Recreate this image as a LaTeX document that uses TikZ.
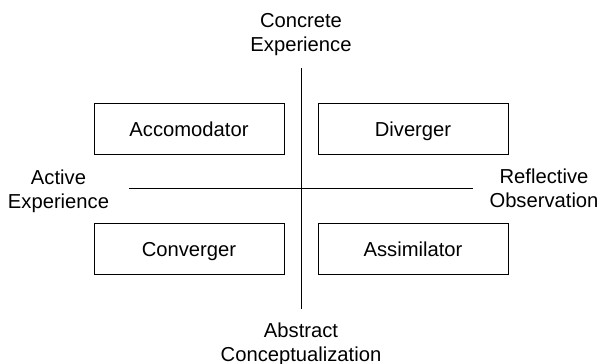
\documentclass[tikz,border=0pt]{standalone}
\usepackage{fontspec}
\setmainfont{Liberation Sans}
\usetikzlibrary{positioning}
\begin{document}
\begin{tikzpicture}[x=1pt, y=-1pt, line width=0.8pt,
    stylebox/.style={draw, minimum width=190pt, minimum height=51pt, inner sep=0pt,
      text height=15pt, text depth=0pt, font=\fontsize{20.2}{24}\selectfont},
    axislabel/.style={align=center, inner sep=0pt, font=\fontsize{20.2}{24}\selectfont}]
    \useasboundingbox (0,0) rectangle (600,364);

    % Axis ends
    \coordinate (top) at (301,68);
    \coordinate (bottom) at (301,309);
    \coordinate (left) at (129,188);
    \coordinate (right) at (473,188);

    % Axes
    \draw (top) -- (bottom);
    \draw (left) -- (right);

    % Learning styles
    \node[stylebox] (accomodator) at (189,128.5) {Accomodator};
    \node[stylebox] (diverger) at (413,128.5) {Diverger};
    \node[stylebox] (converger) at (189,249) {Converger};
    \node[stylebox] (assimilator) at (413,249) {Assimilator};

    % Axis labels
    \node[axislabel] (concrete) at (301,34.8) {Concrete\\Experience};
    \node[axislabel] (active) at (58.5,190.8) {Active\\Experience};
    \node[axislabel] (reflective) at (544,188.7) {Reflective\\Observation};
    \node[axislabel] (abstract) at (301,343.8) {Abstract\\Conceptualization};
\end{tikzpicture}
\end{document}
